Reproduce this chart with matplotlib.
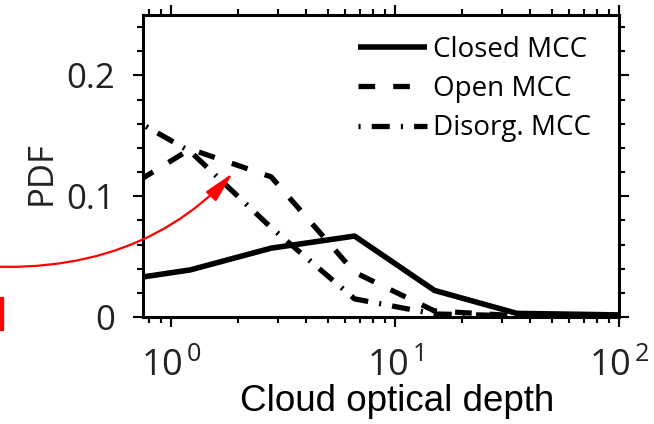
import matplotlib
matplotlib.use("Agg")
import matplotlib.pyplot as plt
from matplotlib.patches import FancyArrowPatch, Rectangle
from matplotlib.path import Path
from matplotlib.ticker import FixedLocator, MultipleLocator, LogLocator, NullFormatter

# Cloud optical depth bin centres and PDFs per cloud regime
tau = [0.53, 1.22, 2.8, 6.6, 15.0, 35.0, 80.0, 185.0]
pdf_closed = [0.029, 0.039, 0.057, 0.067, 0.022, 0.003, 0.002, 0.001]
pdf_open = [0.098, 0.139, 0.116, 0.037, 0.005, 0.001, 0.0, 0.0]
pdf_disorg = [0.175, 0.137, 0.074, 0.015, 0.0025, 0.001, 0.0, 0.0]
series_labels = ["Closed MCC", "Open MCC", "Disorg. MCC"]

x_ticks = [1, 10, 100]
x_tick_labels = [r"$\mathdefault{10^{\,0}}$", r"$\mathdefault{10^{\,1}}$", r"$\mathdefault{10^{\,2}}$"]
y_ticks = [0, 0.1, 0.2]
y_tick_labels = ["0", "0.1", "0.2"]

plt.rcParams["font.family"] = ["Open Sans", "DejaVu Sans"]
plt.rcParams["lines.scale_dashes"] = False

W, H = 654, 424
fig = plt.figure(figsize=(W / 100, H / 100), dpi=100)
ax = fig.add_axes([143 / W, 1 - 317 / H, 476 / W, 302 / H])

ax.plot(tau, pdf_closed, color="black", lw=4.0, solid_capstyle="butt",
        label=series_labels[0])
ax.plot(tau, pdf_open, color="black", lw=3.8, linestyle=(0, (12, 13)),
        label=series_labels[1])
ax.plot(tau, pdf_disorg, color="black", lw=3.8, linestyle=(0, (1.5, 8, 13, 8)),
        label=series_labels[2])

ax.set_xscale("log")
ax.set_xlim(0.75, 100)
ax.set_ylim(0, 0.25)

ax.xaxis.set_major_locator(FixedLocator(x_ticks))
ax.set_xticklabels(x_tick_labels)
ax.xaxis.set_minor_locator(LogLocator(base=10, subs=range(2, 10)))
ax.xaxis.set_minor_formatter(NullFormatter())
ax.yaxis.set_major_locator(FixedLocator(y_ticks))
ax.set_yticklabels(y_tick_labels)
ax.yaxis.set_minor_locator(MultipleLocator(0.02))

for sp in ax.spines.values():
    sp.set_linewidth(2.2)
ax.tick_params(which="both", direction="out", top=True, right=True, width=1.5,
               colors="black")
ax.tick_params(which="minor", length=4.5)
ax.tick_params(axis="y", which="major", length=7, labelsize=25, pad=13)
ax.tick_params(axis="x", which="major", length=7, labelsize=26, pad=16)
for lab in ax.get_xticklabels() + ax.get_yticklabels():
    lab.set_color("#222222")

ax.set_xlabel("Cloud optical depth", fontsize=26.5, family=["Liberation Sans"])
ax.xaxis.set_label_coords(0.533, -0.222)
ax.set_ylabel("PDF", fontsize=25, color="#222222")
ax.yaxis.set_label_coords(-0.178, 0.477)

ax.legend(loc="upper left", bbox_to_anchor=(358 / W, 1 - 36 / H),
          bbox_transform=fig.transFigure, frameon=False, borderpad=0,
          borderaxespad=0, handlelength=2.48, handletextpad=0.22,
          labelspacing=0.40, prop={"family": "Open Sans", "size": 20})

# red annotation arrow from the left margin into the plot
def fpt(x, y):
    return (x / W, 1 - y / H)

arrow_path = Path([fpt(-60, 262), fpt(125, 288), fpt(233, 173)],
                  [Path.MOVETO, Path.CURVE3, Path.CURVE3])
arrow = FancyArrowPatch(path=arrow_path,
                        arrowstyle="-|>,head_length=1.9,head_width=0.42",
                        mutation_scale=10, color="red", lw=1.6,
                        transform=fig.transFigure, clip_on=False)
fig.add_artist(arrow)
fig.add_artist(Rectangle(fpt(0, 330), 3 / W, 33 / H, transform=fig.transFigure,
                         color="red", clip_on=False))

fig.savefig("out.png", dpi=100)
